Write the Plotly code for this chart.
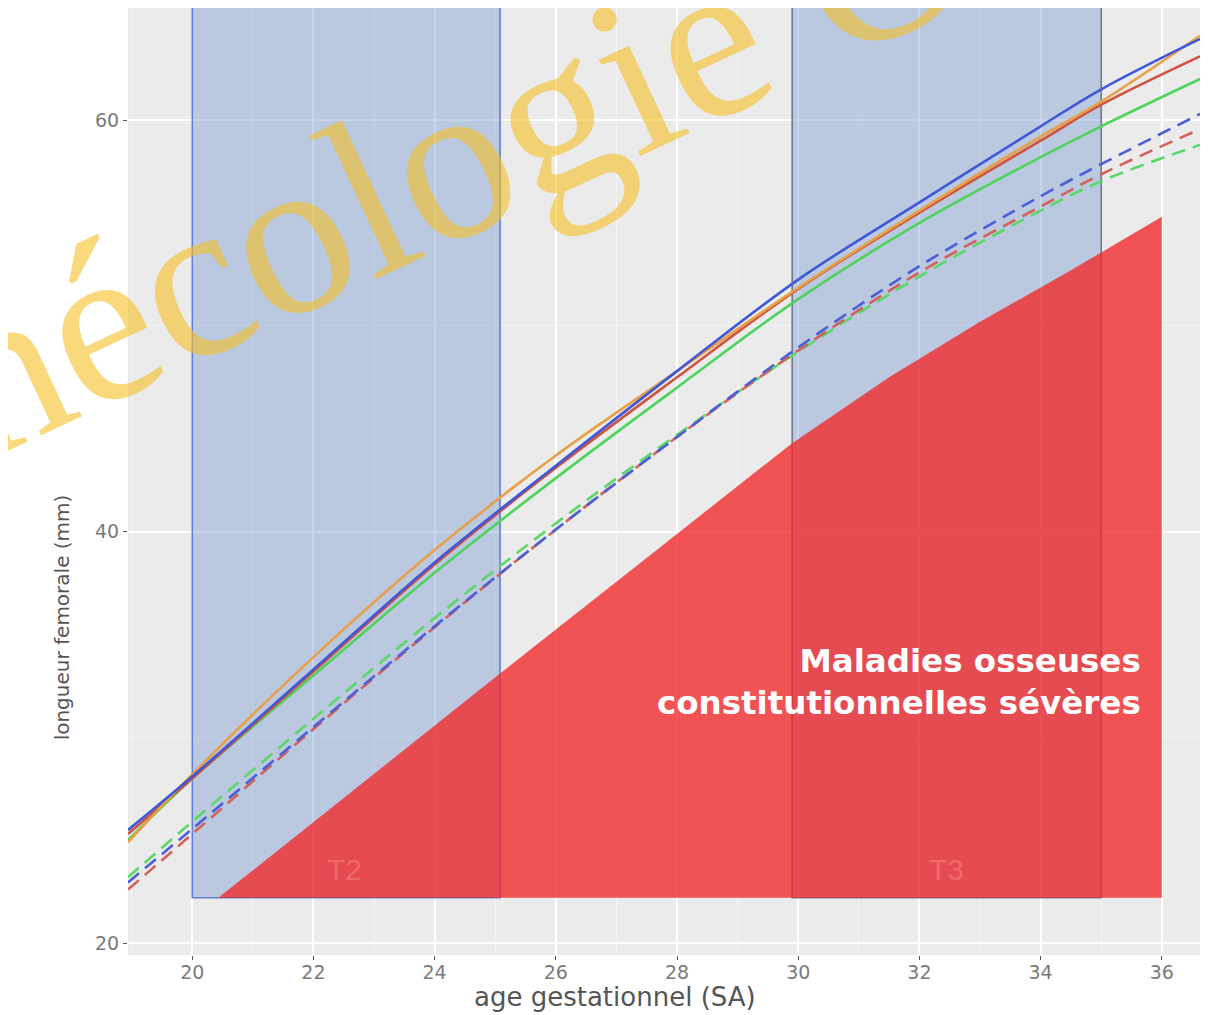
import plotly.graph_objects as go

# ---------------- data ----------------
age = [18.94, 20, 22, 24, 26, 28, 30, 32, 34, 35, 36.63]

solid_blue   = [25.5, 28.1, 33.3, 38.5, 43.2, 47.8, 52.25, 56.0, 59.7, 61.5, 63.95]
solid_orange = [24.9, 28.2, 33.9, 39.1, 43.7, 47.8, 51.85, 55.6, 59.2, 60.9, 64.1]
solid_red    = [25.3, 28.0, 33.2, 38.4, 43.1, 47.5, 51.8, 55.5, 59.0, 60.75, 63.1]
solid_green  = [25.0, 28.0, 33.0, 38.0, 42.6, 47.0, 51.3, 55.0, 58.2, 59.7, 62.0]

dash_blue    = [22.95, 25.55, 30.5, 35.4, 40.1, 44.6, 48.95, 52.9, 56.3, 57.86, 60.3]
dash_red     = [22.6, 25.3, 30.4, 35.35, 40.1, 44.6, 48.8, 52.6, 55.8, 57.37, 59.56]
dash_green   = [23.2, 25.9, 30.9, 35.8, 40.4, 44.7, 48.75, 52.4, 55.6, 57.03, 58.8]

# severe constitutional bone disease zone (outline)
red_x = [20.43, 25.08, 29.9, 31.5, 33.0, 34.5, 36.0, 36.0, 20.43]
red_y = [22.2, 33.1, 44.3, 47.5, 50.2, 52.7, 55.3, 22.2, 22.2]

# trimester windows
t2_range = [20.0, 25.08]
t3_range = [29.9, 35.0]
band_bottom = 22.2

x_ticks = [20, 22, 24, 26, 28, 30, 32, 34, 36]
y_ticks = [20, 40, 60]

x_range = [18.94, 36.63]
y_range = [19.42, 65.45]

# ---------------- figure ----------------
fig = go.Figure()

fig.add_trace(go.Scatter(
    x=red_x, y=red_y, mode="lines", fill="toself",
    fillcolor="rgba(242,40,42,0.78)", line=dict(width=0),
    hoverinfo="skip", showlegend=False))

solid = [(solid_green, "#4FD35C"), (solid_red, "#D0533F"),
         (solid_orange, "#E8A048"), (solid_blue, "#3F58D8")]
for ys, col in solid:
    fig.add_trace(go.Scatter(x=age, y=ys, mode="lines", line_shape="spline",
                             line=dict(color=col, width=2.6),
                             showlegend=False, hoverinfo="skip"))

dashed = [(dash_green, "#5AD868"), (dash_red, "#D2625A"), (dash_blue, "#4A5FD8")]
for ys, col in dashed:
    fig.add_trace(go.Scatter(x=age, y=ys, mode="lines", line_shape="spline",
                             line=dict(color=col, width=2.6, dash="14px,8px"),
                             showlegend=False, hoverinfo="skip"))

shapes = []
for rng, border in [(t2_range, "rgba(80,110,205,0.85)"), (t3_range, "rgba(95,105,125,0.85)")]:
    shapes.append(dict(type="rect", xref="x", yref="y",
                       x0=rng[0], x1=rng[1], y0=band_bottom, y1=y_range[1] + 2,
                       fillcolor="rgba(95,135,204,0.35)",
                       line=dict(color=border, width=1.6), layer="between"))

annotations = [
    dict(x=(t2_range[0] + t2_range[1]) / 2 - 0.02, y=23.6, xref="x", yref="y",
         xanchor="center", yanchor="middle", text="T2", showarrow=False,
         font=dict(family="Liberation Sans, Arial", size=30, color="rgba(240,110,110,0.9)")),
    dict(x=(t3_range[0] + t3_range[1]) / 2, y=23.6, xref="x", yref="y",
         xanchor="center", yanchor="middle", text="T3", showarrow=False,
         font=dict(family="Liberation Sans, Arial", size=30, color="rgba(240,110,110,0.9)")),
    dict(x=35.69, y=32.7, xref="x", yref="y", xanchor="right", yanchor="middle",
         align="right", showarrow=False,
         text="<b>Maladies osseuses<br>constitutionnelles sévères</b>",
         font=dict(family="DejaVu Sans", size=32.5, color="white")),
    dict(x=-0.0616, y=0.3565, xref="paper", yref="paper", textangle=-90,
         xanchor="center", yanchor="middle",
         text="longueur femorale (mm)", showarrow=False,
         font=dict(family="DejaVu Sans", size=20, color="#555555")),
    dict(x=0.4543, y=-0.0443, xref="paper", yref="paper",
         xanchor="center", yanchor="middle",
         text="age gestationnel (SA)", showarrow=False,
         font=dict(family="DejaVu Sans", size=26, color="#555555")),
    dict(x=0.564, y=0.978, xref="paper", yref="paper", textangle=-25,
         xanchor="center", yanchor="middle",
         text="Gynécologie Obstétrique", showarrow=False,
         font=dict(family="Liberation Serif", size=228, color="rgba(245,192,35,0.6)")),
]

fig.update_layout(
    width=1216, height=1015,
    margin=dict(l=120, r=24, t=0, b=68),
    paper_bgcolor="white", plot_bgcolor="#EBEBEB",
    shapes=shapes, annotations=annotations,
    showlegend=False,
)
fig.update_xaxes(range=x_range, tickvals=x_ticks, ticks="outside", ticklen=4,
                 tickcolor="#555555", showline=False, zeroline=False,
                 gridcolor="white", gridwidth=1.5, ticklabelstandoff=-4,
                 minor=dict(dtick=1, tick0=19, showgrid=True, gridcolor="#F4F4F4", gridwidth=0.8, ticks=""),
                 tickfont=dict(family="DejaVu Sans", size=19, color="#7A7A7A"))
fig.update_yaxes(range=y_range, tickvals=y_ticks, ticks="outside", ticklen=4,
                 tickcolor="#555555", showline=False, zeroline=False,
                 gridcolor="white", gridwidth=1.5,
                 minor=dict(dtick=10, tick0=20, showgrid=True, gridcolor="#F4F4F4", gridwidth=0.8, ticks=""),
                 tickfont=dict(family="DejaVu Sans", size=19, color="#7A7A7A"))

fig.write_html("out.html")
